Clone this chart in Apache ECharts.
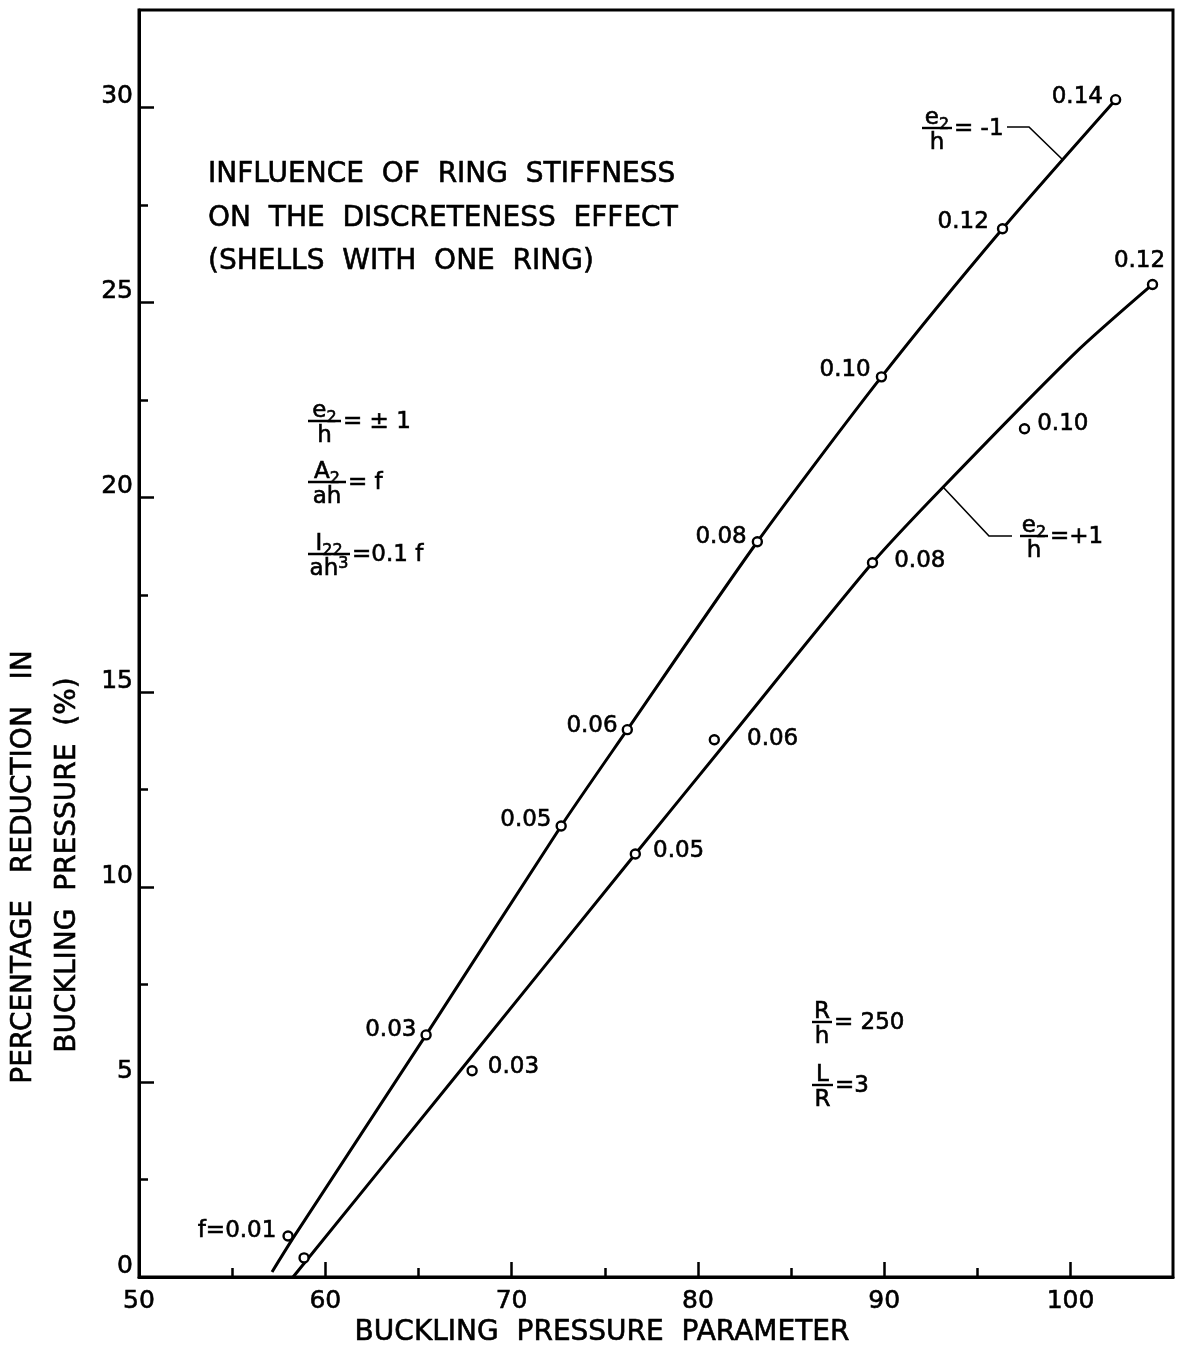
<!DOCTYPE html>
<html><head><meta charset="utf-8">
<script src="https://cdn.jsdelivr.net/npm/echarts@6/dist/echarts.min.js"></script>
<style>html,body{margin:0;padding:0;background:#fff}#c{width:1179px;height:1350px}</style>
</head><body><div id="c"></div>
<script>
// ---- data ----
const xTicks = [50, 60, 70, 80, 90, 100];
const xMinorTicks = [55, 65, 75, 85, 95];
const yTicks = [0, 5, 10, 15, 20, 25, 30];
const yMinorTicks = [2.5, 7.5, 12.5, 17.5, 22.5, 27.5];

// e2/h = -1 measured points
const upperX = [58.0, 65.41, 72.66, 76.21, 83.19, 89.85, 96.35, 102.42];
const upperY = [1.05, 6.21, 11.57, 14.04, 18.86, 23.09, 26.89, 30.20];
const upperLabels = ['f=0.01', '0.03', '0.05', '0.06', '0.08', '0.10', '0.12', '0.14'];
// e2/h = +1 measured points
const lowerX = [58.86, 67.88, 76.64, 80.88, 89.37, 97.53, 104.40];
const lowerY = [0.49, 5.29, 10.85, 13.78, 18.32, 21.76, 25.46];
const lowerLabels = ['', '0.03', '0.05', '0.06', '0.08', '0.10', '0.12'];

// faired curves as drawn
const upperCurveX = [57.14, 58.38, 65.41, 72.66, 76.21, 83.19, 89.85, 96.35, 102.42];
const upperCurveY = [0.13, 1.08, 6.21, 11.57, 14.04, 18.86, 23.09, 26.89, 30.20];
const lowerCurveX = [58.27, 67.24, 76.64, 81.63, 89.37, 93.18, 100.27, 104.40];
const lowerCurveY = [0.0, 5.29, 10.85, 13.78, 18.32, 20.27, 23.71, 25.46];

// ---- label layout (positions only) ----
const upperLabelLayout = [
  {position: 'left', distance: 6, offset: [0, -5]},
  {position: 'left', distance: 4, offset: [0, -5]},
  {position: 'left', distance: 4, offset: [0, -6]},
  {position: 'left', distance: 4, offset: [0, -4]},
  {position: 'left', distance: 5, offset: [0, -5]},
  {position: 'left', distance: 5, offset: [0, -7]},
  {position: 'left', distance: 8, offset: [0, -7]},
  {position: 'left', distance: 7, offset: [0, -3]}
];
const lowerLabelLayout = [
  {position: 'right', distance: 6, offset: [0, 0]},
  {position: 'right', distance: 10, offset: [0, -4]},
  {position: 'right', distance: 12, offset: [0, -3]},
  {position: 'right', distance: 27, offset: [0, -1]},
  {position: 'right', distance: 16, offset: [0, -2]},
  {position: 'right', distance: 7, offset: [0, -5]},
  {position: 'top', distance: 6, offset: [-13, 0]}
];

const FONT = '"DejaVu Sans", "Liberation Sans", sans-serif';
const labelInk = {color: '#000', textBorderColor: '#000', textBorderWidth: 0.6, fontFamily: FONT, fontSize: 23};
const pair = (xs, ys) => xs.map((x, i) => [x, ys[i]]);
const measureCtx = document.createElement('canvas').getContext('2d');
function measure(text, size) { measureCtx.font = size + 'px ' + FONT; return measureCtx.measureText(text).width; }

function markerData(xs, ys, labels, layout) {
  return xs.map((x, i) => ({
    value: [x, ys[i]],
    label: Object.assign({show: labels[i] !== '', formatter: labels[i]}, labelInk, layout[i])
  }));
}

function txt(text, x, y, size, align, valign, rot) {
  const o = {
    type: 'text', x: x, y: y,
    style: {
      text: text, fill: '#000', font: size + 'px ' + FONT,
      stroke: '#000', lineWidth: 0.6,
      textAlign: align, textVerticalAlign: valign, align: align, verticalAlign: valign
    },
    z: 100
  };
  if (rot) o.rotation = rot;
  return o;
}
// parts: [[text, kind]] kind 0 normal, 1 subscript, -1 superscript ; placed with bottom at yb
function mathRow(parts, cx, yb, size) {
  const small = Math.round(size * 0.68);
  const widths = parts.map(p => measure(p[0], p[1] === 0 ? size : small));
  const total = widths.reduce((a, b) => a + b, 0);
  let x = cx - total / 2;
  const out = [];
  parts.forEach((p, i) => {
    const s = p[1] === 0 ? size : small;
    const y = p[1] === 0 ? yb : (p[1] === 1 ? yb + 3 : yb - 9);
    out.push(txt(p[0], x, y, s, 'left', 'bottom'));
    x += widths[i];
  });
  return out;
}
function frac(x, yBar, w, num, den, rhs, size) {
  return [].concat(
    mathRow(num, x + w / 2, yBar + 2, size),
    [{type: 'line', shape: {x1: x, y1: yBar, x2: x + w, y2: yBar}, style: {stroke: '#000', lineWidth: 2.4}, z: 100}],
    mathRow(den, x + w / 2, yBar + size + 4, size),
    [txt(rhs, x + w + 2, yBar + 1, size, 'left', 'middle')]
  );
}
function poly(points, lw) {
  return {type: 'polyline', shape: {points: points}, style: {stroke: '#000', lineWidth: lw, fill: null}, z: 100};
}

const chart = echarts.init(document.getElementById('c'), null, {renderer: 'canvas'});

const axisCommon = {type: 'value', splitLine: {show: false}, minorSplitLine: {show: false}};
const tickInk = {color: '#000', textBorderColor: '#000', textBorderWidth: 0.6, fontFamily: FONT, fontSize: 25};

const graphics = [].concat(
  [
    txt('INFLUENCE  OF  RING  STIFFNESS', 208, 175, 28, 'left', 'middle'),
    txt('ON  THE  DISCRETENESS  EFFECT', 208, 219, 28, 'left', 'middle'),
    txt('(SHELLS  WITH  ONE  RING)', 208, 262, 28, 'left', 'middle'),
    txt('BUCKLING  PRESSURE  PARAMETER', 602, 1333, 28, 'center', 'middle'),
    txt('PERCENTAGE   REDUCTION   IN', 24, 867, 28, 'center', 'middle', Math.PI / 2),
    txt('BUCKLING  PRESSURE  (%)', 68, 865, 28, 'center', 'middle', Math.PI / 2)
  ],
  frac(308, 421, 33, [['e', 0], ['2', 1]], [['h', 0]], '= \u00b1 1', 23),
  frac(308, 482, 38, [['A', 0], ['2', 1]], [['ah', 0]], '= f', 23),
  frac(308, 554, 42, [['I', 0], ['22', 1]], [['ah', 0], ['3', -1]], '=0.1 f', 23),
  frac(812, 1022, 20, [['R', 0]], [['h', 0]], '= 250', 23),
  frac(812, 1085, 21, [['L', 0]], [['R', 0]], '=3', 23),
  frac(922, 128, 30, [['e', 0], ['2', 1]], [['h', 0]], '= -1', 23),
  frac(1020, 536, 28, [['e', 0], ['2', 1]], [['h', 0]], '=+1', 23),
  [
    poly([[1007, 127], [1029, 127], [1063, 160]], 1.6),
    poly([[943, 487], [989, 536], [1012, 536]], 1.6)
  ]
);

chart.setOption({
  backgroundColor: '#fff',
  animation: false,
  textStyle: {fontFamily: FONT, color: '#000'},
  grid: {left: 139, right: 6, top: 10, bottom: 73, containLabel: false, outerBoundsMode: 'none',
         show: true, borderColor: '#000', borderWidth: 3, backgroundColor: 'transparent'},
  xAxis: [
    Object.assign({}, axisCommon, {
      min: 50, max: 105.5,
      axisLine: {show: true, lineStyle: {color: '#000', width: 3}},
      axisTick: {show: true, inside: true, length: 15, lineStyle: {color: '#000', width: 2.5}, customValues: xTicks},
      axisLabel: Object.assign({show: true, customValues: xTicks, margin: 12}, tickInk)
    }),
    Object.assign({}, axisCommon, {
      min: 50, max: 105.5, position: 'bottom',
      axisLine: {show: false},
      axisTick: {show: true, inside: true, length: 9, lineStyle: {color: '#000', width: 2.5}, customValues: xMinorTicks},
      axisLabel: {show: false}
    })
  ],
  yAxis: [
    Object.assign({}, axisCommon, {
      min: 0, max: 32.5,
      axisLine: {show: true, lineStyle: {color: '#000', width: 3}},
      axisTick: {show: true, inside: true, length: 15, lineStyle: {color: '#000', width: 2.5}, customValues: yTicks},
      axisLabel: Object.assign({show: true, customValues: yTicks, margin: 6,
                  verticalAlign: 'bottom', lineHeight: 22}, tickInk)
    }),
    Object.assign({}, axisCommon, {
      min: 0, max: 32.5, position: 'left',
      axisLine: {show: false},
      axisTick: {show: true, inside: true, length: 9, lineStyle: {color: '#000', width: 2.5}, customValues: yMinorTicks},
      axisLabel: {show: false}
    })
  ],
  series: [
    {type: 'line', name: 'e2/h=-1 curve', data: pair(upperCurveX, upperCurveY), smooth: 0.25,
     showSymbol: false, symbol: 'none', lineStyle: {color: '#000', width: 3}, z: 3},
    {type: 'line', name: 'e2/h=+1 curve', data: pair(lowerCurveX, lowerCurveY), smooth: 0.25,
     showSymbol: false, symbol: 'none', lineStyle: {color: '#000', width: 3}, z: 3},
    {type: 'scatter', name: 'e2/h=-1', data: markerData(upperX, upperY, upperLabels, upperLabelLayout),
     symbol: 'circle', symbolSize: 9, itemStyle: {color: '#fff', borderColor: '#000', borderWidth: 2.4, opacity: 1},
     label: labelInk, z: 5},
    {type: 'scatter', name: 'e2/h=+1', data: markerData(lowerX, lowerY, lowerLabels, lowerLabelLayout),
     symbol: 'circle', symbolSize: 9, itemStyle: {color: '#fff', borderColor: '#000', borderWidth: 2.4, opacity: 1},
     label: labelInk, z: 5}
  ],
  graphic: graphics
});
</script>
</body></html>
